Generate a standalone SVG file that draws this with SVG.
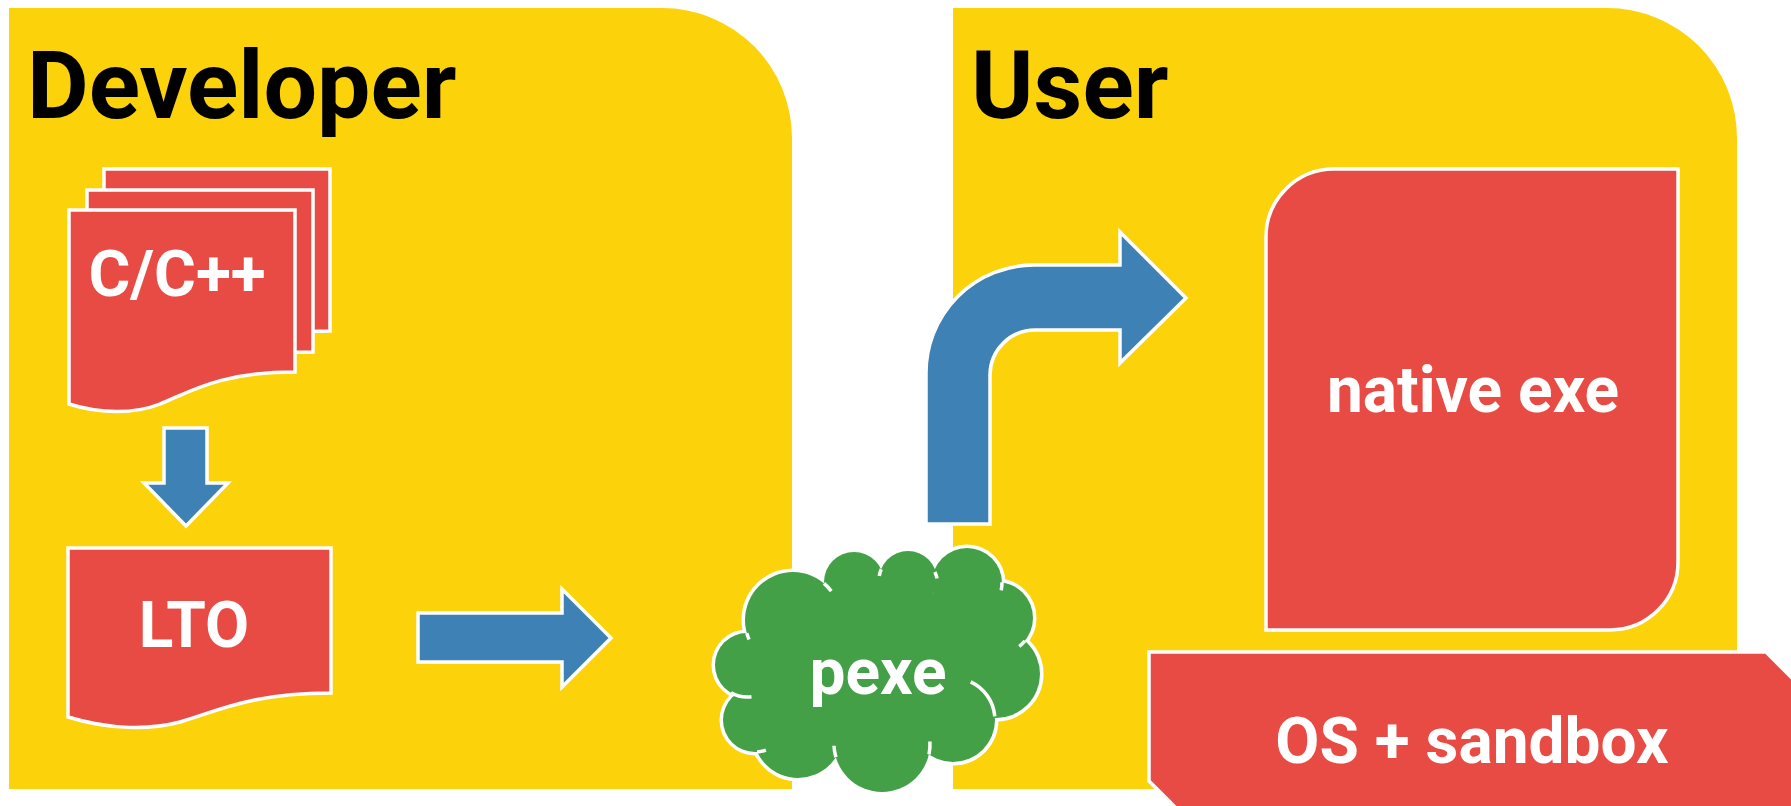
<svg xmlns="http://www.w3.org/2000/svg" width="1791" height="806" viewBox="0 0 1791 806">
<style>
.panel{fill:#FCD30A;stroke:none}
.title{font-family:Roboto,"Liberation Sans",sans-serif;font-weight:700;font-size:95px;fill:#000}
.red{fill:#E84B44;stroke:#fff;stroke-width:3.5;stroke-linejoin:miter}
.lbl{font-family:Roboto,"Liberation Sans",sans-serif;font-weight:700;font-size:64px;fill:#fff;text-anchor:middle}
.arrow{fill:#3E81B5;stroke:#fff;stroke-width:3.5;stroke-linejoin:miter}
.lobe{fill:#43A047;stroke:#fff;stroke-width:7}
.lobefill{fill:#43A047;stroke:none}
.tick{fill:none;stroke:#fff;stroke-width:3.5}
</style>
<rect x="0" y="0" width="1791" height="806" fill="#fff"/>
<g id="developer-panel">
<path class="panel" d="M9,8 H662 A130,130 0 0 1 792,138 V789 H9 Z"/>
<text class="title" x="27" y="118">Developer</text>
</g>
<g id="user-panel">
<path class="panel" d="M953,8 H1607 A130,130 0 0 1 1737,138 V789 H953 Z"/>
<text class="title" x="971" y="118">User</text>
</g>
<g id="cc-sources">
<defs>
<path id="page" d="M69,210 H295 V372 C220,372 190,392 160,404 C135,414 100,414 69,404 Z"/>
</defs>
<use href="#page" class="red" transform="translate(35,-41)"/>
<use href="#page" class="red" transform="translate(18,-20)"/>
<use href="#page" class="red"/>
<text class="lbl" x="177" y="296" style="font-size:64px">C/C++</text>
</g>
<g id="lto">
<path class="red" d="M68,548 H331 V693 C250,693 215,712 180,722 C150,730 110,730 68,717 Z"/>
<text class="lbl" x="194" y="647">LTO</text>
</g>
<g id="pexe">
<g>
<circle class="lobe" cx="793" cy="620" r="48"/>
<circle class="lobe" cx="854" cy="582" r="30"/>
<circle class="lobe" cx="908" cy="580" r="29"/>
<circle class="lobe" cx="967" cy="583" r="35"/>
<circle class="lobe" cx="997" cy="618" r="36"/>
<circle class="lobe" cx="996" cy="674" r="44"/>
<circle class="lobe" cx="953" cy="720" r="42"/>
<circle class="lobe" cx="882" cy="744" r="48"/>
<circle class="lobe" cx="798" cy="733" r="45"/>
<circle class="lobe" cx="755" cy="720" r="32"/>
<circle class="lobe" cx="747" cy="665" r="32"/>
</g>
<g>
<circle class="lobefill" cx="793" cy="620" r="48"/>
<circle class="lobefill" cx="854" cy="582" r="30"/>
<circle class="lobefill" cx="908" cy="580" r="29"/>
<circle class="lobefill" cx="967" cy="583" r="35"/>
<circle class="lobefill" cx="997" cy="618" r="36"/>
<circle class="lobefill" cx="996" cy="674" r="44"/>
<circle class="lobefill" cx="953" cy="720" r="42"/>
<circle class="lobefill" cx="882" cy="744" r="48"/>
<circle class="lobefill" cx="798" cy="733" r="45"/>
<circle class="lobefill" cx="755" cy="720" r="32"/>
<circle class="lobefill" cx="747" cy="665" r="32"/>
<ellipse class="lobefill" cx="880" cy="665" rx="120" ry="80"/>
</g>
<path class="tick" d="M824,583.3 A48,48 0 0 1 831.3,591.1"/>
<path class="tick" d="M881.2,569.3 A29,29 0 0 0 879.3,576"/>
<path class="tick" d="M934.9,572.1 A29,29 0 0 1 937,578.5"/>
<path class="tick" d="M1002,582.3 A35,35 0 0 1 1001.2,590.3"/>
<path class="tick" d="M1024.9,640.8 A36,36 0 0 1 1019.2,646.4"/>
<path class="tick" d="M970.7,681.9 A42,42 0 0 1 994.8,716.3"/>
<path class="tick" d="M929,754.4 A48,48 0 0 0 929.9,741.5"/>
<path class="tick" d="M835.9,757.3 A48,48 0 0 1 834,745.7"/>
<path class="tick" d="M757.1,751.9 A32,32 0 0 0 765.9,750.1"/>
<path class="tick" d="M731,692.7 A32,32 0 0 0 751.5,696.7"/>
<path class="tick" d="M746.8,633.1 A48,48 0 0 0 749.1,639.5"/>
<text class="lbl" x="878" y="694" style="font-size:64px">pexe</text>
</g>
<g id="native-exe">
<path class="red" d="M1266,237 A68,68 0 0 1 1334,169 H1678 V562 A68,68 0 0 1 1610,630 H1266 Z"/>
<text class="lbl" x="1473" y="412">native exe</text>
</g>
<g id="os-sandbox">
<path class="red" d="M1149,652 H1766 L1800,686 V815 H1183 L1149,781 Z"/>
<text class="lbl" x="1472" y="763">OS + sandbox</text>
</g>
<g id="connectors">
<path class="arrow" d="M164,428 H207 V483 H228 L186,526 L144,483 H164 Z"/>
<path class="arrow" d="M418,613 H562 V589 L611,638 L562,687 V662 H418 Z"/>
<path class="arrow" d="M926,524 V374 A108,108 0 0 1 1034,265 H1120 V232 L1186,298 L1120,363 V330 H1035 A45,45 0 0 0 990,375 V524 Z"/>
</g>
</svg>
